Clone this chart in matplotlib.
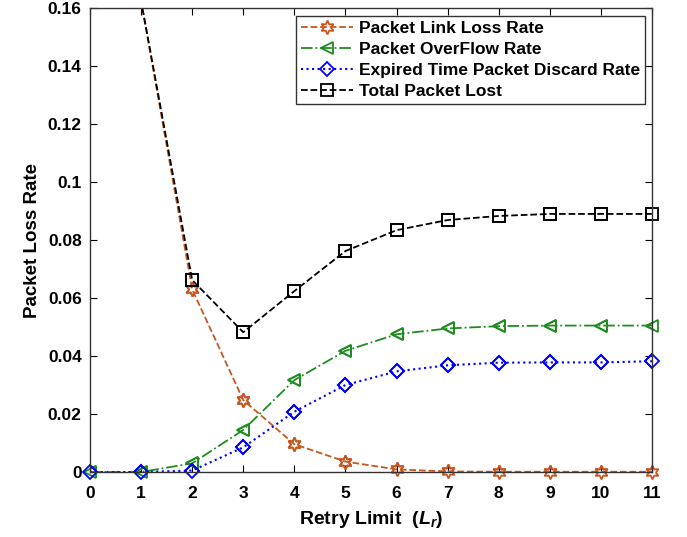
import numpy as np
import matplotlib
matplotlib.use('Agg')
import matplotlib.pyplot as plt

plt.rcParams['font.family'] = 'Liberation Sans'
plt.rcParams['font.weight'] = 'bold'
plt.rcParams['mathtext.fontset'] = 'custom'
plt.rcParams['mathtext.it'] = 'Liberation Sans:italic:bold'
plt.rcParams['mathtext.rm'] = 'Liberation Sans:bold'

# dados
retry = [0, 1, 2, 3, 4, 5, 6, 7, 8, 9, 10, 11]
link_loss = [0.30, 0.1625, 0.063, 0.0248, 0.0096, 0.0036, 0.0009, 0.0002, 0.0001, 0.0001, 0.0001, 0.0001]
overflow = [0, 0, 0.003, 0.0145, 0.0317, 0.0418, 0.0475, 0.0495, 0.0503, 0.0505, 0.0505, 0.0505]
expired = [0, 0, 0.0005, 0.0085, 0.0208, 0.030, 0.0347, 0.0368, 0.0377, 0.0378, 0.0378, 0.0382]
total = [0.30, 0.1625, 0.0662, 0.0482, 0.0624, 0.0762, 0.0834, 0.0869, 0.0883, 0.0890, 0.0890, 0.0890]

ytick_vals = [0, 0.02, 0.04, 0.06, 0.08, 0.1, 0.12, 0.14, 0.16]
ytick_labels = ['0', '0.02', '0.04', '0.06', '0.08', '0.1', '0.12', '0.14', '0.16']

fig = plt.figure(figsize=(6.87, 5.37), dpi=100)
ax = fig.add_axes([0.131, 0.121, 0.818, 0.864])

ymax = 0.16
series = [
    (link_loss, '--', '#C8561E', (6, 1, 0), 10, 1.3, 'Packet Link Loss Rate'),
    (overflow, '-.', '#1E8C1E', '<', 9, 1.3, 'Packet OverFlow Rate'),
    (expired, ':', '#0000FF', 'D', 7, 1.5, 'Expired Time Packet Discard Rate'),
    (total, '--', 'black', 's', 9, 1.3, 'Total Packet Lost'),
]
for vals, ls, cor, mk, ms, lw, nome in series:
    ax.plot(retry, vals, ls, color=cor, marker=mk, markersize=ms, markerfacecolor='none',
            markeredgewidth=1.3, linewidth=lw, label=nome)
    # marcadores sem recorte (como no matlab), so os que estao dentro do limite
    x = np.array(retry)
    v = np.array(vals)
    ok = v <= ymax
    ax.plot(x[ok], v[ok], linestyle='none', color=cor, marker=mk, markersize=ms,
            markerfacecolor='none', markeredgewidth=1.3, clip_on=False)

ax.set_xlim(0, 11)
ax.set_ylim(0, ymax)
ax.set_xticks(retry)
ax.set_yticks(ytick_vals)
ax.set_yticklabels(ytick_labels)
ax.tick_params(direction='in', top=True, right=True, labelsize=12.5, length=5)
ax.tick_params(axis='y', pad=6)
ax.tick_params(axis='x', pad=10)
for s in ax.spines.values():
    s.set_linewidth(1.0)
    s.set_color('#333333')

ax.set_xlabel('Retry Limit  ($L_r$)', fontsize=14, fontweight='bold', labelpad=6)
ax.set_ylabel('Packet Loss Rate', fontsize=13.5, fontweight='bold', labelpad=5)

leg = ax.legend(loc='upper right', bbox_to_anchor=(0.9875, 0.9828), fontsize=12.5, handlelength=3.0,
                borderpad=0.3, labelspacing=0.33, handletextpad=0.3, borderaxespad=0,
                fancybox=False, edgecolor='#333333', framealpha=1)
leg.get_frame().set_linewidth(1.0)

plt.savefig('out.png', dpi=100)
